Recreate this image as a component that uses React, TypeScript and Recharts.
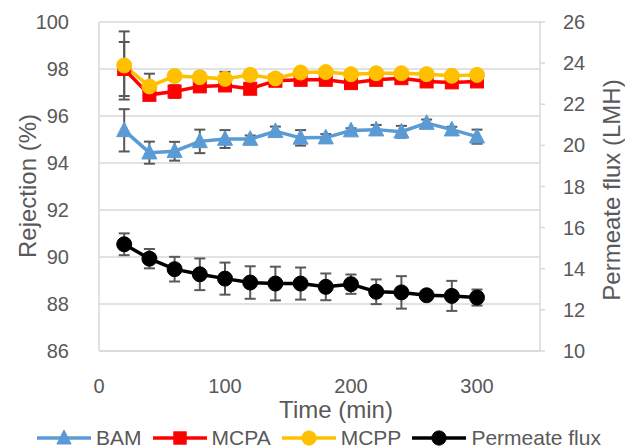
import React from 'react';
import { ComposedChart, Line, XAxis, YAxis, CartesianGrid, ErrorBar, Legend } from 'recharts';

const time = [20, 40, 60, 80, 100, 120, 140, 160, 180, 200, 220, 240, 260, 280, 300];
const bam = [95.39, 94.44, 94.5, 94.92, 95.02, 95.02, 95.35, 95.07, 95.08, 95.38, 95.42, 95.33, 95.7, 95.42, 95.12];
const bamErr = [0.9, 0.47, 0.4, 0.5, 0.38, 0.15, 0.2, 0.33, 0.15, 0.1, 0.2, 0.25, 0.15, 0.12, 0.3];
const mcpa = [98.0, 96.9, 97.04, 97.26, 97.3, 97.16, 97.5, 97.54, 97.54, 97.4, 97.54, 97.61, 97.47, 97.43, 97.47];
const mcpaErr = [1.15, 0.2, 0.27, 0.15, 0.15, 0.15, 0.1, 0.1, 0.1, 0.1, 0.1, 0.1, 0.1, 0.1, 0.1];
const mcpp = [98.15, 97.26, 97.7, 97.65, 97.58, 97.75, 97.6, 97.85, 97.87, 97.78, 97.82, 97.82, 97.78, 97.71, 97.75];
const mcppErr = [1.45, 0.54, 0.15, 0.2, 0.3, 0.1, 0.15, 0.1, 0.1, 0.1, 0.1, 0.1, 0.1, 0.1, 0.1];
const flux = [15.19, 14.49, 13.98, 13.73, 13.52, 13.33, 13.28, 13.28, 13.12, 13.25, 12.88, 12.85, 12.71, 12.68, 12.6];
const fluxErr = [0.53, 0.47, 0.6, 0.77, 0.78, 0.79, 0.82, 0.78, 0.65, 0.47, 0.6, 0.79, 0.1, 0.73, 0.39];

const xTicks = [0, 100, 200, 300];
const leftTicks = [86, 88, 90, 92, 94, 96, 98, 100];
const rightTicks = [10, 12, 14, 16, 18, 20, 22, 24, 26];

const seriesNames = ['BAM', 'MCPA', 'MCPP', 'Permeate flux'];
const seriesColors = ['#5B9BD5', '#FF0000', '#FFC000', '#000000'];
const seriesShapes = ['triangle', 'square', 'circle', 'circle'];

const data = time.map((t, i) => ({
  time: t,
  bam: bam[i], bamErr: bamErr[i],
  mcpa: mcpa[i], mcpaErr: mcpaErr[i],
  mcpp: mcpp[i], mcppErr: mcppErr[i],
  flux: flux[i], fluxErr: fluxErr[i],
}));

const FONT = '"Liberation Sans", Arial, sans-serif';
const TEXT = '#595959';
const GRID = '#d9d9d9';
const ERR = '#595959';

function Marker({ shape, color, cx, cy, s = 1 }: any) {
  if (cx == null || cy == null) return null;
  if (shape === 'triangle') {
    const h = 14 * s, w = 15 * s;
    return <polygon points={`${cx},${cy - h * 0.6} ${cx - w / 2},${cy + h * 0.45} ${cx + w / 2},${cy + h * 0.45}`} fill={color} stroke={color} strokeWidth={1} />;
  }
  if (shape === 'square') {
    const a = 13 * s;
    return <rect x={cx - a / 2} y={cy - a / 2} width={a} height={a} fill={color} stroke={color} strokeWidth={1} />;
  }
  return <circle cx={cx} cy={cy} r={7.5 * s} fill={color} stroke={color} strokeWidth={1} />;
}

const makeDot = (i: number) => (props: any) => (
  <Marker key={`${i}-${props.index}`} shape={seriesShapes[i]} color={seriesColors[i]} cx={props.cx} cy={props.cy} />
);

const LegendContent = () => (
  <div style={{ display: 'flex', justifyContent: 'center', alignItems: 'center', paddingLeft: 12, fontFamily: FONT, fontSize: 21, color: TEXT }}>
    {seriesNames.map((n, i) => (
      <div key={n} style={{ display: 'flex', alignItems: 'center', marginRight: i < 3 ? 10 : 0 }}>
        <svg width={56} height={20} style={{ marginRight: 4 }}>
          <line x1={1} y1={10} x2={55} y2={10} stroke={seriesColors[i]} strokeWidth={3.5} />
          <Marker shape={seriesShapes[i]} color={seriesColors[i]} cx={28} cy={10} s={0.95} />
        </svg>
        <span style={{ lineHeight: '20px' }}>{n}</span>
      </div>
    ))}
  </div>
);

export default function App() {
  return (
    <div style={{ position: 'absolute', left: 0, top: 0, width: 625, height: 448, background: '#fff' }}>
      <ComposedChart width={625} height={448} data={data} margin={{ top: 22, right: 0, bottom: 0, left: 0 }}>
        <CartesianGrid yAxisId="left" vertical={false} stroke={GRID} strokeWidth={1.5} />
        <XAxis
          dataKey="time"
          type="number"
          domain={[0, 350]}
          ticks={xTicks}
          height={97}
          tickLine={false}
          tickMargin={22}
          axisLine={{ stroke: GRID, strokeWidth: 1.5 }}
          tick={{ fill: TEXT, fontSize: 20, fontFamily: FONT }}
          label={{
            content: () => (
              <text x={336} y={409} textAnchor="middle" dominantBaseline="central" fill={TEXT} fontSize={24} fontFamily={FONT}>Time (min)</text>
            ),
          }}
        />
        <YAxis
          yAxisId="left"
          orientation="left"
          width={99}
          domain={[86, 100]}
          ticks={leftTicks}
          interval={0}
          tickLine={false}
          tickMargin={24}
          axisLine={{ stroke: GRID, strokeWidth: 1.5 }}
          tick={{ fill: TEXT, fontSize: 20, fontFamily: FONT }}
          label={{
            content: () => (
              <text x={27} y={186} transform="rotate(-90 27 186)" textAnchor="middle" dominantBaseline="central" fill={TEXT} fontSize={24} fontFamily={FONT}>Rejection (%)</text>
            ),
          }}
        />
        <YAxis
          yAxisId="right"
          orientation="right"
          width={85}
          domain={[10, 26]}
          ticks={rightTicks}
          interval={0}
          tickSize={5}
          tickMargin={18}
          tickLine={{ stroke: GRID, strokeWidth: 1.5 }}
          axisLine={{ stroke: GRID, strokeWidth: 1.5 }}
          tick={{ fill: TEXT, fontSize: 20, fontFamily: FONT }}
          label={{
            content: () => (
              <text x={611} y={190} transform="rotate(-90 611 190)" textAnchor="middle" dominantBaseline="central" fill={TEXT} fontSize={24} fontFamily={FONT}>Permeate flux (LMH)</text>
            ),
          }}
        />
        <Legend
          verticalAlign="middle"
          align="center"
          layout="horizontal"
          wrapperStyle={{ top: 428, left: 0, width: 625 }}
          content={() => <LegendContent />}
        />
        <Line yAxisId="left" dataKey="bam" stroke={seriesColors[0]} strokeWidth={3.5} dot={makeDot(0)} isAnimationActive={false}>
          <ErrorBar dataKey="bamErr" direction="y" width={5.5} stroke={ERR} strokeWidth={2} />
        </Line>
        <Line yAxisId="left" dataKey="mcpa" stroke={seriesColors[1]} strokeWidth={3.5} dot={makeDot(1)} isAnimationActive={false}>
          <ErrorBar dataKey="mcpaErr" direction="y" width={5.5} stroke={ERR} strokeWidth={2} />
        </Line>
        <Line yAxisId="left" dataKey="mcpp" stroke={seriesColors[2]} strokeWidth={3.5} dot={makeDot(2)} isAnimationActive={false}>
          <ErrorBar dataKey="mcppErr" direction="y" width={5.5} stroke={ERR} strokeWidth={2} />
        </Line>
        <Line yAxisId="right" dataKey="flux" stroke={seriesColors[3]} strokeWidth={3.5} dot={makeDot(3)} isAnimationActive={false}>
          <ErrorBar dataKey="fluxErr" direction="y" width={5.5} stroke={ERR} strokeWidth={2} />
        </Line>
      </ComposedChart>
    </div>
  );
}
